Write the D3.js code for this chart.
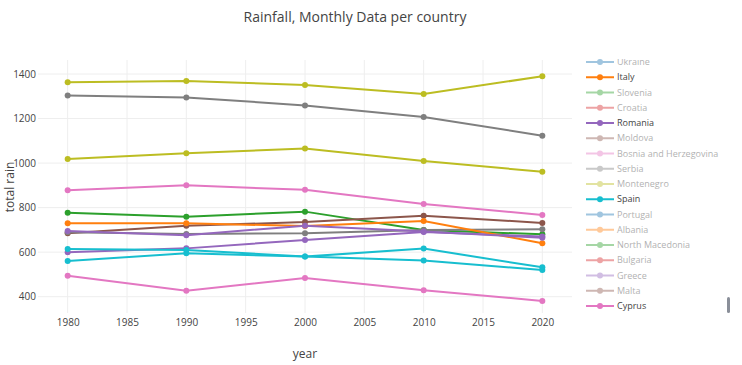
<!DOCTYPE html>
<html><head><meta charset="utf-8">
<script src="https://cdn.jsdelivr.net/npm/d3@7"></script>
<style>
html,body{margin:0;padding:0;background:#fff;}
svg{display:block;font-family:"Open Sans",sans-serif;}
</style></head>
<body>
<div id="chart"></div>
<script>
// ---- data ----
const years = [1980, 1990, 2000, 2010, 2020];
const countries = ["Germany","France","Belgium","Netherlands","Luxembourg","Denmark","Switzerland","Austria","Ireland","United Kingdom",
  "Sweden","Norway","Finland","Iceland","Estonia","Latvia","Lithuania","Poland","Czechia","Slovakia",
  "Ukraine","Italy","Slovenia","Croatia","Romania","Moldova","Bosnia and Herzegovina","Serbia","Montenegro","Spain",
  "Portugal","Albania","North Macedonia","Bulgaria","Greece","Malta","Cyprus"];
const visible = [false,false,true,false,true,true,false,true,true,false,
  false,false,false,false,false,false,true,true,true,true,
  false,true,false,false,true,false,false,false,false,true,
  false,false,false,false,false,false,true];
const rain = {
  "Belgium":   [777, 759, 782, 700, 680],
  "Luxembourg":[600, 617, 655, 690, 670],
  "Denmark":   [685, 719, 735, 764, 731],
  "Austria":   [1303, 1295, 1259, 1207, 1123],
  "Ireland":   [1363, 1369, 1351, 1310, 1390],
  "Lithuania": [878, 900, 880, 816, 767],
  "Poland":    [689, 682, 685, 700, 703],
  "Czechia":   [1018, 1044, 1065, 1009, 961],
  "Slovakia":  [560, 595, 580, 562, 520],
  "Italy":     [730, 730, 717, 740, 640],
  "Romania":   [695, 676, 719, 693, 665],
  "Spain":     [614, 610, 580, 616, 532],
  "Cyprus":    [494, 427, 484, 429, 381]
};
const yTicks = [400, 600, 800, 1000, 1200, 1400];
const xTicks = [1980, 1985, 1990, 1995, 2000, 2005, 2010, 2015, 2020];
const palette = ['#1f77b4','#ff7f0e','#2ca02c','#d62728','#9467bd','#8c564b','#e377c2','#7f7f7f','#bcbd22','#17becf'];

// ---- layout ----
const W = 742, H = 365;
const plot = {l: 38, r: 572, t: 60, b: 313};
const x = d3.scaleLinear().domain([1977.5, 2022.5]).range([plot.l, plot.r]);
const y = d3.scaleLinear().domain([400, 1400]).range([296.7, 74]);

const svg = d3.select("#chart").append("svg").attr("width", W).attr("height", H);

// grid
svg.append("g").selectAll("line").data(xTicks).join("line")
  .attr("x1", d => x(d)).attr("x2", d => x(d)).attr("y1", plot.t).attr("y2", plot.b)
  .attr("stroke", "#eee").attr("stroke-width", 1);
svg.append("g").selectAll("line").data(yTicks).join("line")
  .attr("x1", plot.l).attr("x2", plot.r).attr("y1", d => y(d)).attr("y2", d => y(d))
  .attr("stroke", "#eee").attr("stroke-width", 1);

// axes
const xAxis = d3.axisBottom(x).tickValues(xTicks).tickSize(0).tickPadding(6).tickFormat(d3.format("d"));
const gx = svg.append("g").attr("transform", `translate(0,${plot.b})`).call(xAxis);
gx.select(".domain").remove();
gx.selectAll("text").attr("fill", "#444").style("font-size", "10px").style("font-family", "Open Sans");

const yAxis = d3.axisLeft(y).tickValues(yTicks).tickSize(0).tickPadding(2).tickFormat(d3.format("d"));
const gy = svg.append("g").attr("transform", `translate(${plot.l},0)`).call(yAxis);
gy.select(".domain").remove();
gy.selectAll("text").attr("fill", "#444").style("font-size", "10px").style("font-family", "Open Sans");

// titles
svg.append("text").attr("x", 355).attr("y", 22).attr("text-anchor", "middle")
  .attr("fill", "#444").style("font-size", "14px").text("Rainfall, Monthly Data per country");
svg.append("text").attr("x", 305).attr("y", 358).attr("text-anchor", "middle")
  .attr("fill", "#444").style("font-size", "12px").text("year");
svg.append("text").attr("transform", "translate(14,187) rotate(-90)").attr("text-anchor", "middle")
  .attr("fill", "#444").style("font-size", "12px").text("total rain");

// lines
const line = d3.line().x((d, i) => x(years[i])).y(d => y(d));
const traces = svg.append("g");
countries.forEach((c, i) => {
  if (!visible[i] || !rain[c]) return;
  const col = palette[i % 10];
  const g = traces.append("g");
  g.append("path").attr("d", line(rain[c])).attr("fill", "none").attr("stroke", col).attr("stroke-width", 2);
  g.selectAll("circle").data(rain[c]).join("circle")
    .attr("cx", (d, j) => x(years[j])).attr("cy", d => y(d)).attr("r", 3).attr("fill", col);
});

// legend (scrolled: first 20 entries are above the visible window)
const legTop = 59, legBottom = 318;
svg.append("defs").append("clipPath").attr("id", "legclip")
  .append("rect").attr("x", 580).attr("y", legTop).attr("width", 160).attr("height", legBottom - legTop);
const leg = svg.append("g").attr("clip-path", "url(#legclip)");
const step = 15.25, firstY = 62 - 20 * step;
countries.forEach((c, i) => {
  const cy = firstY + i * step;
  if (cy < legTop - 8) return; // scrolled out of view
  const col = palette[i % 10];
  const g = leg.append("g").attr("opacity", visible[i] ? 1 : 0.42);
  g.append("line").attr("x1", 586).attr("x2", 614).attr("y1", cy).attr("y2", cy)
    .attr("stroke", col).attr("stroke-width", 2);
  g.append("circle").attr("cx", 600).attr("cy", cy).attr("r", 3).attr("fill", col);
  g.append("text").attr("x", 617).attr("y", cy).attr("dy", "0.35em")
    .attr("fill", "#444").style("font-size", "9px").text(c);
});
// scrollbar
svg.append("rect").attr("x", 727).attr("y", 297).attr("width", 3).attr("height", 16)
  .attr("rx", 1.5).attr("fill", "#8a8f99");
</script>
</body></html>
